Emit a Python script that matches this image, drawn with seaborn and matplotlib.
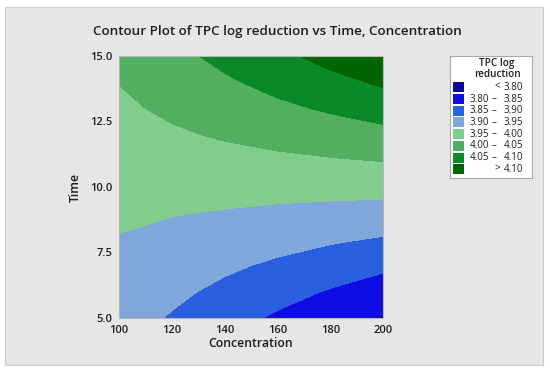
import numpy as np
import matplotlib.pyplot as plt
from matplotlib.patches import Rectangle
import seaborn as sns

# grid
concentration = [100, 120, 140, 160, 180, 200]
time = [5, 6, 7, 8, 9, 10, 11, 12, 13, 14, 15]

# TPC log reduction at each time, one list per concentration
tpc_c100 = [3.922, 3.931, 3.940, 3.948, 3.957, 3.966, 3.975, 3.984, 3.992, 4.001, 4.010]
tpc_c120 = [3.896, 3.910, 3.924, 3.938, 3.952, 3.966, 3.980, 3.994, 4.008, 4.022, 4.036]
tpc_c140 = [3.869, 3.889, 3.908, 3.927, 3.947, 3.966, 3.985, 4.005, 4.024, 4.043, 4.063]
tpc_c160 = [3.843, 3.867, 3.892, 3.917, 3.941, 3.966, 3.991, 4.015, 4.040, 4.065, 4.089]
tpc_c180 = [3.816, 3.846, 3.876, 3.906, 3.936, 3.966, 3.996, 4.026, 4.056, 4.086, 4.116]
tpc_c200 = [3.795, 3.825, 3.860, 3.896, 3.931, 3.966, 4.001, 4.036, 4.072, 4.107, 4.142]

level_edges = [3.80, 3.85, 3.90, 3.95, 4.00, 4.05, 4.10]
level_colors = ["#0b0b98", "#0d0de4", "#2a5fe0", "#7fa7da",
                "#82cc8e", "#52af5f", "#0a8a26", "#006400"]

sns.set_theme(style="white")
plt.rcParams['font.family'] = ['Open Sans', 'DejaVu Sans']

z = np.array([tpc_c100, tpc_c120, tpc_c140, tpc_c160, tpc_c180, tpc_c200]).T

fig = plt.figure(figsize=(5.5, 3.73), dpi=100)
W, H = 550, 373
fig.patches.append(Rectangle((5 / W, 1 - 365 / H), 538 / W, 358 / H,
                             transform=fig.transFigure, facecolor="#e6e6e6",
                             edgecolor="#cdcdcd", lw=0.8, zorder=-5))

ax = fig.add_axes([119 / W, 1 - 318 / H, 264 / W, 262 / H])
levels = [3.0] + level_edges + [5.0]
ax.contourf(concentration, time, z, levels=levels, colors=level_colors)
ax.set_xlim(100, 200)
ax.set_ylim(5, 15)
ax.set_xticks([100, 120, 140, 160, 180, 200])
ax.set_yticks([5, 7.5, 10, 12.5, 15])
ax.set_yticklabels(["5.0", "7.5", "10.0", "12.5", "15.0"])
ax.tick_params(axis="both", which="both", direction="out", length=4, width=0.8,
               color="#a0a0a0", labelsize=8, labelcolor="#1e1e1e", pad=1)
for lab in ax.get_xticklabels() + ax.get_yticklabels():
    lab.set_fontweight("semibold")
for s in ax.spines.values():
    s.set_color("#b5b5b5")
    s.set_linewidth(0.8)
ax.set_xlabel("Concentration", fontsize=8.8, fontweight="semibold", color="#1e1e1e", labelpad=1)
ax.set_ylabel("Time", fontsize=8.8, fontweight="semibold", color="#1e1e1e", labelpad=6)

fig.text(277 / W, 1 - 32 / H, "Contour Plot of TPC log reduction vs Time, Concentration",
         ha="center", va="center", fontsize=9.7, fontweight="semibold", color="#1e1e1e")

# legend box drawn in pixel units
lg = fig.add_axes([450 / W, 1 - 178 / H, 82 / W, 122 / H])
lg.set_xlim(450, 532)
lg.set_ylim(178, 56)
lg.set_xticks([])
lg.set_yticks([])
lg.set_facecolor("white")
for s in lg.spines.values():
    s.set_color("#a8a8a8")
    s.set_linewidth(0.8)
fs = 7
lg.text(497, 63.5, "TPC log", ha="center", va="center", fontsize=7.2, fontweight="semibold", color="#1e1e1e")
lg.text(497, 74.5, "reduction", ha="center", va="center", fontsize=7.2, fontweight="semibold", color="#1e1e1e")
n = len(level_colors)
for i, col in enumerate(level_colors):
    yc = 87.3 + i * 11.7
    lg.add_patch(Rectangle((453, yc - 5), 11, 10, facecolor=col, edgecolor="none"))
    if i == 0:
        lg.text(497, yc, "<", ha="center", va="center", fontsize=fs, color="#1e1e1e")
        lg.text(523, yc, f"{level_edges[0]:.2f}", ha="right", va="center", fontsize=fs, color="#1e1e1e")
    elif i == n - 1:
        lg.text(497, yc, ">", ha="center", va="center", fontsize=fs, color="#1e1e1e")
        lg.text(523, yc, f"{level_edges[-1]:.2f}", ha="right", va="center", fontsize=fs, color="#1e1e1e")
    else:
        lg.text(469.5, yc, f"{level_edges[i - 1]:.2f}", ha="left", va="center", fontsize=fs, color="#1e1e1e")
        lg.text(494, yc, "–", ha="center", va="center", fontsize=fs, color="#1e1e1e")
        lg.text(523, yc, f"{level_edges[i]:.2f}", ha="right", va="center", fontsize=fs, color="#1e1e1e")

fig.savefig("out.png", dpi=100, facecolor="white")
